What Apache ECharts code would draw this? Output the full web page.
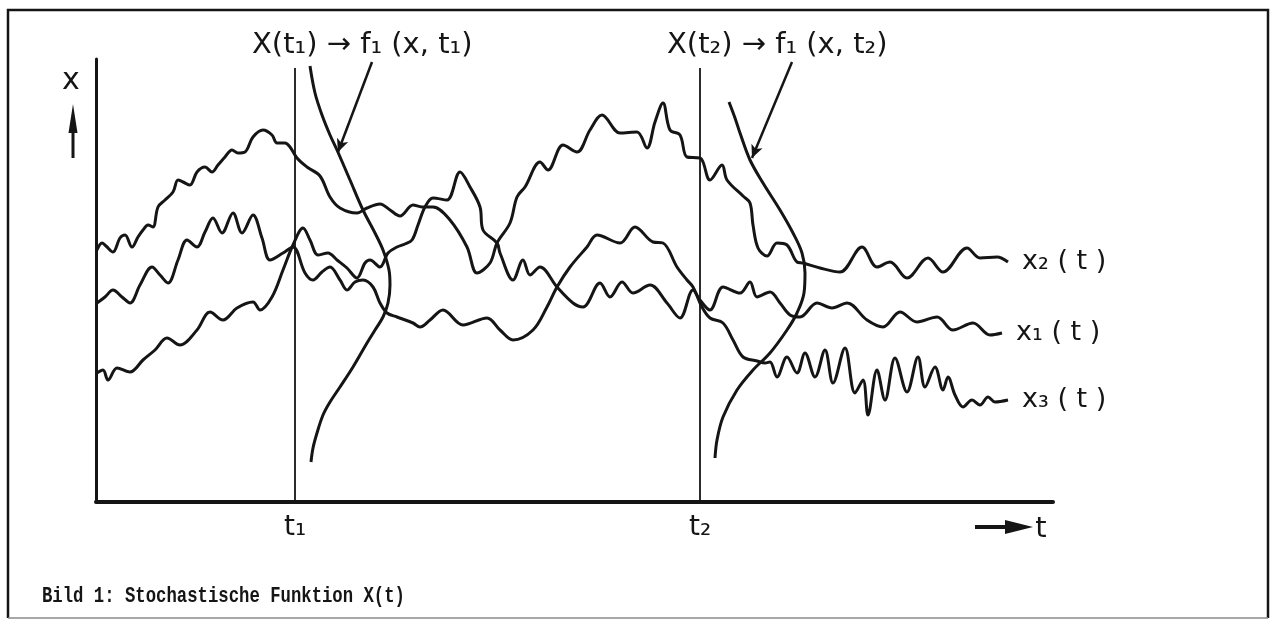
<!DOCTYPE html>
<html>
<head>
<meta charset="utf-8">
<script src="https://cdn.jsdelivr.net/npm/echarts@6/dist/echarts.min.js"></script>
<style>
  html, body { margin: 0; padding: 0; background: #fff; }
  #chart { width: 1275px; height: 626px; }
</style>
</head>
<body>
<div id="chart"></div>
<script>
// Sample paths [t, x] of the stochastic process X(t)
const x1Path = [[0.1,12.9],[0.7,13.2],[1.2,12.2],[2.1,13.4],[3.4,13.0],[4.7,14.2],[5.9,15.2],[7.1,16.4],[8.4,15.7],[10.1,17.2],[11.4,19.0],[12.7,18.2],[14.1,19.4],[15.7,20.0],[16.4,19.2],[17.6,20.5],[18.7,23.2],[19.7,25.7],[20.7,27.4],[21.4,26.2],[22.2,24.7],[23.2,24.9],[24.1,24.2],[25.1,23.4],[26.1,22.4],[26.9,23.9],[27.4,24.2],[28.4,23.5],[29.2,24.9],[30.1,25.5],[30.9,25.8],[31.6,26.2],[32.2,27.7],[32.9,29.5],[33.7,30.4],[35.1,30.2],[36.4,33.0],[37.4,31.5],[38.4,29.5],[38.7,27.2],[40.1,25.9],[40.4,24.9],[41.7,22.2],[42.7,24.2],[43.4,22.7],[44.4,23.5],[46.1,21.5],[47.7,19.9],[48.7,19.5],[50.4,21.9],[51.4,20.5],[52.6,22.0],[53.7,20.9],[55.4,21.7],[57.1,19.9],[58.4,18.4],[59.7,21.2],[60.4,20.2],[61.4,19.2],[62.7,21.5],[64.4,20.9],[65.4,22.0],[66.1,20.5],[67.4,21.0],[68.4,19.9],[69.4,18.7],[70.4,18.5],[72.1,19.9],[73.6,19.4],[75.1,19.9],[77.1,18.2],[78.7,17.5],[80.4,19.0],[82.1,18.0],[84.1,18.5],[85.7,17.2],[87.7,17.9],[89.4,16.7],[90.6,16.9]];

const x2Path = [[0.1,25.2],[0.6,25.9],[1.0,25.6],[1.7,25.0],[2.4,26.4],[2.9,26.7],[3.6,25.5],[4.2,26.5],[4.7,27.2],[5.2,27.7],[5.7,27.5],[6.2,29.5],[6.9,30.2],[7.7,31.0],[8.2,32.2],[8.7,32.0],[9.4,31.7],[10.1,33.0],[10.9,33.5],[11.6,33.0],[12.2,33.7],[12.9,34.5],[13.6,35.2],[14.2,34.9],[14.9,35.0],[15.7,36.5],[16.7,37.2],[17.6,36.7],[18.1,35.9],[18.9,35.9],[19.4,35.5],[20.1,34.4],[21.1,33.5],[22.4,32.6],[23.4,30.5],[24.4,29.4],[26.1,28.9],[27.1,29.4],[28.4,29.8],[29.4,29.2],[30.4,28.6],[31.7,29.7],[32.6,29.5],[33.7,29.5],[35.4,28.2],[37.1,25.5],[38.1,22.9],[39.4,23.9],[40.1,25.9],[41.4,27.9],[42.1,30.5],[42.9,31.5],[44.4,34.0],[45.2,33.2],[46.7,35.7],[48.1,35.0],[49.4,37.2],[50.6,38.7],[52.4,36.9],[54.1,37.0],[55.1,35.4],[55.9,38.0],[56.7,39.9],[57.4,37.2],[58.4,36.7],[59.1,34.5],[60.4,34.4],[60.7,34.0],[61.4,32.2],[62.6,33.7],[63.1,32.2],[64.7,30.6],[65.4,29.9],[65.7,27.7],[66.2,25.4],[67.1,24.6],[68.1,25.9],[69.1,25.7],[70.1,24.0],[70.7,23.9],[72.4,23.4],[74.4,23.0],[76.6,25.5],[78.1,23.5],[79.4,24.0],[81.1,22.4],[83.2,24.4],[84.7,23.0],[87.1,25.4],[88.4,24.4],[90.1,24.5],[91.2,24.0]];

const x3Path = [[0.1,19.9],[0.9,20.5],[1.7,21.2],[2.6,20.5],[3.4,19.9],[4.4,21.7],[5.6,23.5],[6.4,22.7],[7.2,21.9],[8.2,24.2],[9.1,26.2],[10.1,25.5],[10.9,27.0],[11.7,28.4],[12.6,26.9],[13.7,28.9],[14.6,26.9],[15.7,28.7],[16.6,26.4],[17.4,24.2],[18.7,24.9],[19.7,25.5],[20.9,22.9],[21.7,22.2],[22.6,23.0],[23.4,23.5],[24.4,22.2],[25.1,21.2],[25.9,22.0],[26.7,22.2],[27.7,21.5],[28.4,19.9],[29.1,18.9],[30.1,18.5],[31.7,17.9],[32.4,17.5],[33.4,18.2],[34.7,19.2],[36.7,17.7],[39.1,18.4],[40.4,17.2],[41.7,16.2],[43.7,17.2],[45.1,19.5],[46.1,21.5],[47.4,23.5],[49.1,25.5],[50.1,26.7],[52.4,25.9],[53.9,27.5],[55.7,26.0],[56.7,25.9],[58.1,23.5],[59.1,22.2],[59.7,21.5],[60.6,19.5],[61.4,18.4],[62.7,17.9],[63.7,16.2],[64.7,14.5],[66.1,14.1],[66.9,13.9],[67.4,14.0],[68.1,12.5],[69.1,14.5],[70.1,12.9],[70.9,14.9],[71.9,12.5],[72.9,15.2],[73.7,11.9],[74.9,15.4],[75.9,10.9],[76.7,12.2],[77.2,8.7],[78.1,13.2],[78.9,10.2],[79.9,14.4],[81.1,11.0],[82.2,14.5],[82.9,11.5],[83.9,13.5],[84.7,11.2],[85.2,12.5],[85.9,10.7],[86.7,9.5],[87.6,10.2],[88.4,9.7],[89.2,10.5],[89.9,10.0],[91.2,10.2]];

// First-order densities f1(x, t) sketched beside the two section times
const density1 = [[21.4,43.6],[21.9,40.9],[22.6,38.7],[23.4,36.7],[24.1,35.2],[25.4,32.2],[26.7,29.2],[27.9,26.9],[28.7,25.2],[29.3,23.2],[29.4,21.7],[29.2,19.9],[28.7,18.5],[27.9,17.2],[27.1,15.9],[25.7,13.5],[24.4,11.5],[23.4,10.0],[22.7,8.7],[22.1,6.9],[21.7,5.4],[21.5,4.0]];
const density2 = [[63.3,40.0],[63.9,38.4],[64.4,36.9],[65.4,34.2],[66.7,31.9],[68.4,29.2],[69.7,26.9],[70.6,24.9],[70.9,22.9],[70.8,20.9],[70.1,18.9],[69.1,17.2],[67.4,14.9],[65.7,13.2],[64.1,11.2],[62.7,8.5],[62.1,6.2],[61.9,4.4]];

// Section times and their labels
const sectionTimes = [19.9, 60.4];
const sectionTop = 43.4;
const tickLabels = ['t\u2081', 't\u2082'];
const sectionTitles = ['X(t\u2081) \u2192 f\u2081 (x, t\u2081)', 'X(t\u2082) \u2192 f\u2081 (x, t\u2082)'];
const pathLabels = ['x\u2081 ( t )', 'x\u2082 ( t )', 'x\u2083 ( t )'];
// Pointer arrows from the titles to the density curves: [from, to]
const pointers = [[[27.6, 44.0], [24.2, 35.0]], [[69.6, 44.0], [65.6, 34.4]]];

const ink = '#151515';
const hand = '"DejaVu Sans", "Noto Sans", sans-serif';

const chart = echarts.init(document.getElementById('chart'), null, { renderer: 'canvas' });

function pathSeries(name, data, label) {
  return {
    name, type: 'line', data, smooth: 0.35, symbol: 'none', silent: true,
    lineStyle: { color: ink, width: 3 },
    endLabel: label ? { show: true, formatter: label, distance: 14, color: ink, fontSize: 27, fontFamily: hand } : { show: false }
  };
}

const series = [
  pathSeries('x1', x1Path, pathLabels[0]),
  pathSeries('x2', x2Path, pathLabels[1]),
  pathSeries('x3', x3Path, pathLabels[2]),
  pathSeries('f1_t1', density1, null),
  pathSeries('f1_t2', density2, null)
];
sectionTimes.forEach((t, i) => {
  series.push({
    name: 'section' + (i + 1), type: 'line', symbol: 'none', silent: true,
    data: [[t, 0], [t, sectionTop]],
    lineStyle: { color: ink, width: 1.8 }
  });
});
series.push({
  name: 'pointers', type: 'line', data: [], silent: true,
  markLine: {
    silent: true, symbol: ['none', 'arrow'], symbolSize: [9, 13],
    label: { show: false },
    lineStyle: { color: ink, width: 2.5, type: 'solid' },
    data: pointers.map(p => [{ coord: p[0] }, { coord: p[1] }])
  }
});

const option = {
  animation: false,
  backgroundColor: '#ffffff',
  grid: { left: 96, right: 222, top: 59, bottom: 124 },
  xAxis: {
    type: 'value', min: 0, max: 95.7,
    axisLine: { show: true, lineStyle: { color: ink, width: 4 } },
    axisTick: { show: false },
    splitLine: { show: false },
    axisLabel: {
      customValues: sectionTimes,
      formatter: v => tickLabels[sectionTimes.findIndex(s => Math.abs(s - v) < 1e-6)] || '',
      color: ink, fontSize: 28, fontFamily: hand, margin: 12
    }
  },
  yAxis: {
    type: 'value', min: 0, max: 44.3,
    axisLine: { show: true, lineStyle: { color: ink, width: 3 } },
    axisTick: { show: false },
    splitLine: { show: false },
    axisLabel: { show: false }
  },
  graphic: [
    // frame around the figure
    { type: 'polyline', shape: { points: [[8, 618], [8, 10], [1268, 10], [1268, 618]] }, style: { stroke: ink, lineWidth: 2.5, fill: null } },
    { type: 'line', shape: { x1: 8, y1: 618, x2: 1268, y2: 618 }, style: { stroke: '#8a8a8a', lineWidth: 1.5 } },
    // axis name x with upward arrow
    { type: 'text', x: 71, y: 81, style: { text: 'x', fontSize: 30, fontFamily: hand, fill: ink, align: 'center', verticalAlign: 'middle' } },
    { type: 'line', shape: { x1: 73, y1: 158, x2: 73, y2: 125 }, style: { stroke: ink, lineWidth: 3 } },
    { type: 'polygon', shape: { points: [[73, 104], [68.5, 133], [77.5, 133]] }, style: { fill: ink } },
    // axis name t with rightward arrow
    { type: 'line', shape: { x1: 975, y1: 527, x2: 1012, y2: 527 }, style: { stroke: ink, lineWidth: 4 } },
    { type: 'polygon', shape: { points: [[1033, 527], [1005, 520], [1005, 534]] }, style: { fill: ink } },
    { type: 'text', x: 1041, y: 529, style: { text: 't', fontSize: 29, fontFamily: hand, fill: ink, align: 'center', verticalAlign: 'middle' } },
    // titles of the two sections
    { type: 'text', x: 252, y: 45, style: { text: sectionTitles[0], fontSize: 29, fontFamily: hand, fill: ink, verticalAlign: 'middle' } },
    { type: 'text', x: 667, y: 45, style: { text: sectionTitles[1], fontSize: 29, fontFamily: hand, fill: ink, verticalAlign: 'middle' } },
    // caption
    { type: 'text', x: 42, y: 596, scaleY: 1.3, style: { text: 'Bild 1: Stochastische Funktion X(t)', fontSize: 17.3, fontWeight: 'bold', fontFamily: '"Liberation Mono", "DejaVu Sans Mono", monospace', fill: ink, verticalAlign: 'middle' } }
  ],
  series
};

chart.setOption(option);
</script>
</body>
</html>
